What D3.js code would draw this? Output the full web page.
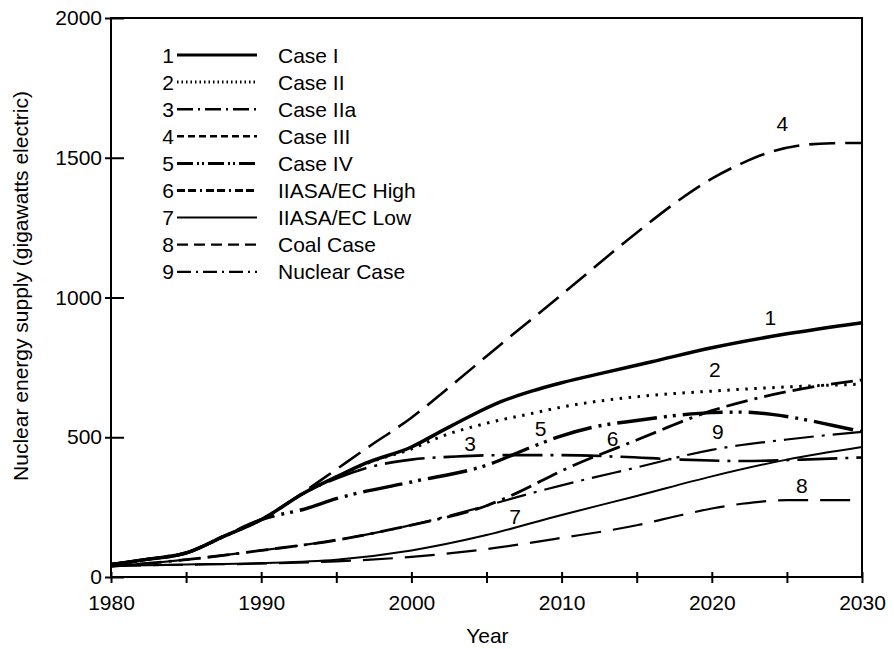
<!DOCTYPE html>
<html>
<head>
<meta charset="utf-8">
<script src="https://cdn.jsdelivr.net/npm/d3@7"></script>
<style>
  html, body { margin: 0; padding: 0; background: #fff; }
  svg { display: block; font-family: "Liberation Sans", Arial, Helvetica, sans-serif; }
</style>
</head>
<body>
<svg id="chart" width="894" height="649"></svg>
<script>
// ---------------- DATA ----------------
const seriesNames = ["Case I", "Case II", "Case IIa", "Case III", "Case IV",
                     "IIASA/EC High", "IIASA/EC Low", "Coal Case", "Nuclear Case"];
const seriesNumbers = ["1","2","3","4","5","6","7","8","9"];

const caseI = [[1980,45],[1982.5,64],[1985,86],[1987.5,145],[1990,205],[1993,305],[1995,358],[1997,408],[2000,465],
  [2002,522],[2004,578],[2006,628],[2008,665],[2010,695],[2013,733],[2016,770],[2020,820],[2025,870],[2030,910]];
const caseII = [[1980,45],[1982.5,64],[1985,86],[1987.5,145],[1990,205],[1993,305],[1995,358],[1997,406],[2000,458],
  [2002,503],[2005,550],[2008,585],[2010,608],[2015,645],[2020,665],[2025,680],[2030,690]];
const caseIIa = [[1980,45],[1982.5,64],[1985,86],[1987.5,145],[1990,205],[1993,305],[1995,352],[1997,390],[2000,420],
  [2003,431],[2006,436],[2010,436],[2014,430],[2018,420],[2022,415],[2026,420],[2030,428]];
const caseIII = [[1980,45],[1982.5,64],[1985,86],[1987.5,145],[1990,205],[1993,310],[1995,385],[1997,460],[2000,570],
  [2003,700],[2005,790],[2010,1010],[2015,1232],[2018,1355],[2020,1425],[2022,1480],[2024,1522],
  [2026,1545],[2028,1552],[2030,1553]];
const caseIV = [[1980,45],[1982.5,64],[1985,86],[1987.5,145],[1990,205],[1993,245],[1995,280],[2000,340],[2005,400],
  [2008,465],[2010,505],[2012,535],[2015,560],[2018,580],[2020,588],[2022,590],[2024,582],
  [2026,565],[2028,543],[2030,520]];
const iiasaHigh = [[1980,38],[1985,62],[1990,95],[1995,132],[2000,186],[2005,255],[2007,300],
  [2010,380],[2015,490],[2020,595],[2025,663],[2030,705]];
const iiasaLow = [[1980,40],[1985,45],[1990,50],[1995,62],[2000,95],[2005,150],[2010,222],
  [2015,290],[2020,360],[2025,420],[2030,465]];
const coalCase = [[1980,40],[1985,44],[1990,48],[1995,56],[2000,72],[2005,100],[2010,140],
  [2015,185],[2018,222],[2020,245],[2022,262],[2025,275],[2030,275]];
const nuclearCase = [[1980,38],[1985,62],[1990,95],[1995,132],[2000,186],[2005,255],[2008,300],
  [2010,328],[2015,392],[2020,455],[2025,492],[2030,519]];

// curve number labels placed in data coordinates [year, value]
const curveLabelPos = [[2023.9,930],[2020.2,741],[2003.9,479],[2024.7,1624],[2008.6,533],
  [2013.4,494],[2006.9,218],[2026.0,329],[2020.4,519]];

const yTicks = [0, 500, 1000, 1500, 2000];
const xTicks = [1980, 1985, 1990, 1995, 2000, 2005, 2010, 2015, 2020, 2025, 2030];
const xTitle = "Year";
const yTitle = "Nuclear energy supply (gigawatts electric)";

// ---------------- STYLES ----------------
const allSeries = [caseI, caseII, caseIIa, caseIII, caseIV, iiasaHigh, iiasaLow, coalCase, nuclearCase];
const widths = [3.5, 3, 2.6, 2.6, 3.4, 2.8, 2, 2.2, 2.2];
const dashes = [null, "2.5,6.5", "40,8,3,8", "26,10", "40,7,3,6,3,7", "22,7,22,7,3,7", null, "30,12", "30,8,3,8"];
const legendDashes = [null, "1.5,3", "16,5,2,5", "7,4", "16,4,2,3,2,4", "8,3,8,4,2,4", null, "11,6", "14,5,2,5"];

// ---------------- LAYOUT ----------------
const svg = d3.select("#chart");
const x = d3.scaleLinear().domain([1980, 2030]).range([111, 862]);
const y = d3.scaleLinear().domain([0, 2000]).range([577, 18]);
const FS = 21;

// frame
svg.append("rect")
  .attr("x", x(1980)).attr("y", y(2000))
  .attr("width", x(2030) - x(1980)).attr("height", y(0) - y(2000))
  .attr("fill", "none").attr("stroke", "#000").attr("stroke-width", 2);

// Y axis (outward ticks with labels)
const yAxis = svg.append("g").attr("transform", `translate(${x(1980)},0)`)
  .call(d3.axisLeft(y).tickValues(yTicks).tickSize(6).tickPadding(3).tickFormat(d3.format("d")));
yAxis.select(".domain").remove();
const yAxisIn = svg.append("g").attr("transform", `translate(${x(1980)},0)`)
  .call(d3.axisRight(y).tickValues(yTicks).tickSize(13).tickFormat(""));
yAxisIn.select(".domain").remove();

// X axis
const xAxis = svg.append("g").attr("transform", `translate(0,${y(0)})`)
  .call(d3.axisBottom(x).tickValues(xTicks).tickSize(6).tickPadding(12)
    .tickFormat(d => d % 10 === 0 ? d : ""));
xAxis.select(".domain").remove();
const xAxisIn = svg.append("g").attr("transform", `translate(0,${y(0)})`)
  .call(d3.axisTop(x).tickValues(xTicks).tickSize(5).tickFormat(""));
xAxisIn.select(".domain").remove();

svg.selectAll(".tick line").attr("stroke", "#000").attr("stroke-width", 2);
svg.selectAll(".tick text").attr("font-size", FS).attr("fill", "#000")
  .attr("font-family", "'Liberation Sans', Arial, sans-serif");

// axis titles
svg.append("text").attr("x", x(2000) + 76).attr("y", 643)
  .attr("text-anchor", "middle").attr("font-size", FS).text(xTitle);
svg.append("text")
  .attr("transform", `translate(28,${286}) rotate(-90)`)
  .attr("text-anchor", "middle").attr("font-size", FS).text(yTitle);

// lines
const line = d3.line().x(d => x(d[0])).y(d => y(d[1])).curve(d3.curveMonotoneX);
const plot = svg.append("g");
[7, 6, 8, 5, 2, 4, 1, 3, 0].forEach(i => {
  plot.append("path")
    .datum(allSeries[i])
    .attr("d", line)
    .attr("fill", "none")
    .attr("stroke", "#000")
    .attr("stroke-width", widths[i])
    .attr("stroke-linejoin", "round")
    .attr("stroke-dasharray", dashes[i]);
});

// curve number labels
svg.append("g").selectAll("text").data(curveLabelPos).join("text")
  .attr("x", d => x(d[0])).attr("y", d => y(d[1]))
  .attr("dy", "0.36em")
  .attr("text-anchor", "middle").attr("font-size", FS)
  .text((d, i) => seriesNumbers[i]);

// legend
const legend = svg.append("g");
const rowY = i => 55 + i * 27.1;
seriesNames.forEach((name, i) => {
  legend.append("text").attr("x", 174).attr("y", rowY(i)).attr("dy", "0.36em")
    .attr("text-anchor", "end").attr("font-size", FS).text(seriesNumbers[i]);
  legend.append("line").attr("x1", 177).attr("x2", 257).attr("y1", rowY(i)).attr("y2", rowY(i))
    .attr("stroke", "#000").attr("stroke-width", Math.min(widths[i], 3))
    .attr("stroke-dasharray", legendDashes[i]);
  legend.append("text").attr("x", 278).attr("y", rowY(i)).attr("dy", "0.36em")
    .attr("font-size", FS).text(name);
});
</script>
</body>
</html>
